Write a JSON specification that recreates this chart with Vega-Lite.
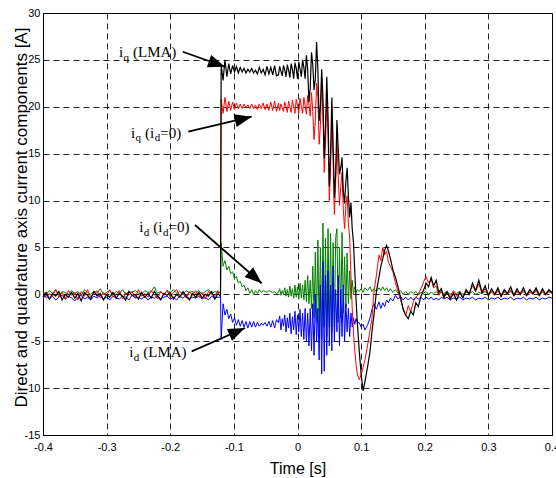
{
"$schema":"https://vega.github.io/schema/vega-lite/v6.json",
"width":509,"height":422,
"autosize":{"type":"none"},
"padding":{"left":43,"top":13,"right":4,"bottom":43},
"background":"white",
"config":{"font":"Liberation Sans","view":{"stroke":"black","strokeWidth":1}},
"datasets":{
"sig":[
{"t":-0.4,"k":-0.3,"r":0.3,"g":0.3,"b":-0.4},{"t":-0.395,"k":0.2,"r":-0.4,"g":0.0,"b":-0.1},{"t":-0.39,"k":-0.5,"r":0.1,"g":0.4,"b":-0.5},{"t":-0.385,"k":0.1,"r":-0.2,"g":0.1,"b":-0.2},
{"t":-0.38,"k":-0.2,"r":0.5,"g":0.5,"b":-0.6},{"t":-0.375,"k":0.3,"r":-0.3,"g":-0.1,"b":-0.3},{"t":-0.37,"k":-0.6,"r":0.2,"g":0.3,"b":-0.1},{"t":-0.365,"k":0.0,"r":-0.5,"g":0.2,"b":-0.5},
{"t":-0.36,"k":-0.3,"r":0.4,"g":0.0,"b":-0.2},{"t":-0.355,"k":0.2,"r":-0.1,"g":0.4,"b":-0.4},{"t":-0.35,"k":-0.4,"r":0.2,"g":0.1,"b":-0.7},{"t":-0.345,"k":0.1,"r":-0.6,"g":0.3,"b":-0.3},
{"t":-0.34,"k":-0.7,"r":0.3,"g":-0.1,"b":-0.1},{"t":-0.335,"k":0.2,"r":-0.2,"g":0.5,"b":-0.5},{"t":-0.33,"k":-0.1,"r":0.5,"g":0.2,"b":-0.3},{"t":-0.325,"k":-0.5,"r":-0.3,"g":0.0,"b":-0.6},
{"t":-0.32,"k":0.3,"r":0.1,"g":0.3,"b":-0.2},{"t":-0.315,"k":-0.2,"r":0.4,"g":0.1,"b":-0.4},{"t":-0.31,"k":0.1,"r":-0.4,"g":0.6,"b":-0.1},{"t":-0.305,"k":-0.6,"r":0.2,"g":0.0,"b":-0.5},
{"t":-0.3,"k":0.0,"r":-0.1,"g":0.2,"b":-0.3},{"t":-0.295,"k":-0.3,"r":0.5,"g":0.4,"b":-0.6},{"t":-0.29,"k":0.2,"r":-0.3,"g":-0.1,"b":-0.2},{"t":-0.285,"k":-0.4,"r":0.0,"g":0.3,"b":-0.4},
{"t":-0.28,"k":0.1,"r":0.4,"g":0.1,"b":-0.5},{"t":-0.275,"k":-0.2,"r":-0.5,"g":0.5,"b":-0.2},{"t":-0.27,"k":-0.6,"r":0.2,"g":0.0,"b":-0.3},{"t":-0.265,"k":0.3,"r":-0.1,"g":0.3,"b":-0.6},
{"t":-0.26,"k":-0.1,"r":0.3,"g":0.2,"b":-0.1},{"t":-0.255,"k":0.0,"r":-0.4,"g":0.4,"b":-0.4},{"t":-0.25,"k":-0.5,"r":0.5,"g":0.1,"b":-0.3},{"t":-0.245,"k":0.2,"r":-0.2,"g":0.0,"b":-0.5},
{"t":-0.24,"k":-0.3,"r":0.1,"g":0.4,"b":-0.2},{"t":-0.235,"k":0.1,"r":-0.3,"g":0.2,"b":-0.6},{"t":-0.23,"k":-0.4,"r":0.4,"g":0.3,"b":-0.3},{"t":-0.225,"k":0.3,"r":0.0,"g":0.8,"b":-0.4},
{"t":-0.22,"k":-0.2,"r":-0.5,"g":0.1,"b":-0.1},{"t":-0.215,"k":-0.6,"r":0.3,"g":0.3,"b":-0.5},{"t":-0.21,"k":0.1,"r":-0.1,"g":0.0,"b":-0.3},{"t":-0.205,"k":-0.1,"r":0.4,"g":0.4,"b":-0.2},
{"t":-0.2,"k":0.2,"r":-0.3,"g":0.2,"b":-0.5},{"t":-0.195,"k":-0.5,"r":0.2,"g":0.5,"b":-0.3},{"t":-0.19,"k":0.0,"r":0.5,"g":0.1,"b":-0.6},{"t":-0.185,"k":-0.3,"r":-0.2,"g":0.3,"b":-0.2},
{"t":-0.18,"k":0.3,"r":0.1,"g":0.0,"b":-0.4},{"t":-0.175,"k":-0.2,"r":-0.4,"g":0.4,"b":-0.1},{"t":-0.17,"k":-0.6,"r":0.3,"g":0.2,"b":-0.5},{"t":-0.165,"k":0.1,"r":-0.1,"g":0.3,"b":-0.3},
{"t":-0.16,"k":-0.3,"r":0.4,"g":0.1,"b":-0.4},{"t":-0.155,"k":0.2,"r":-0.3,"g":0.4,"b":-0.2},{"t":-0.15,"k":-0.4,"r":0.2,"g":0.0,"b":-0.5},{"t":-0.145,"k":0.0,"r":-0.5,"g":0.3,"b":-0.3},
{"t":-0.14,"k":-0.2,"r":0.3,"g":0.5,"b":-0.6},{"t":-0.135,"k":0.3,"r":0.0,"g":0.1,"b":-0.2},{"t":-0.13,"k":-0.5,"r":-0.2,"g":0.3,"b":-0.4},{"t":-0.125,"k":0.1,"r":0.4,"g":0.2,"b":-0.3},
{"t":-0.121,"k":-0.2,"r":0.1,"g":0.2,"b":-0.3},
{"t":-0.12,"k":24.5,"r":20.8,"g":5.5,"b":-4.8},{"t":-0.117,"k":22.8,"r":19.3,"g":3.0,"b":-1.0},{"t":-0.114,"k":25.0,"r":21.0,"g":3.6,"b":-2.2},{"t":-0.111,"k":23.2,"r":19.5,"g":2.6,"b":-1.6},
{"t":-0.108,"k":24.6,"r":20.6,"g":3.0,"b":-2.6},{"t":-0.105,"k":23.5,"r":19.6,"g":2.2,"b":-2.1},{"t":-0.102,"k":24.4,"r":20.5,"g":2.4,"b":-3.0},{"t":-0.099,"k":23.7,"r":19.7,"g":1.7,"b":-2.5},
{"t":-0.096,"k":24.3,"r":20.4,"g":1.9,"b":-3.3},{"t":-0.093,"k":23.6,"r":19.8,"g":1.2,"b":-2.7},{"t":-0.09,"k":24.2,"r":20.3,"g":1.4,"b":-3.4},{"t":-0.087,"k":23.7,"r":19.8,"g":0.8,"b":-2.8},
{"t":-0.084,"k":24.1,"r":20.3,"g":1.0,"b":-3.5},{"t":-0.081,"k":23.6,"r":19.9,"g":0.4,"b":-2.9},{"t":-0.078,"k":24.0,"r":20.2,"g":0.7,"b":-3.6},{"t":-0.075,"k":23.7,"r":19.8,"g":0.1,"b":-2.9},
{"t":-0.072,"k":24.1,"r":20.3,"g":0.5,"b":-3.5},{"t":-0.069,"k":23.6,"r":19.8,"g":0.0,"b":-2.9},{"t":-0.066,"k":23.9,"r":20.2,"g":0.4,"b":-3.5},{"t":-0.063,"k":23.5,"r":19.7,"g":0.1,"b":-3.0},
{"t":-0.06,"k":24.2,"r":20.3,"g":0.5,"b":-3.4},{"t":-0.057,"k":23.6,"r":19.8,"g":0.2,"b":-3.1},{"t":-0.054,"k":24.0,"r":20.4,"g":0.4,"b":-3.3},{"t":-0.051,"k":23.4,"r":19.7,"g":0.3,"b":-3.0},
{"t":-0.048,"k":24.3,"r":20.3,"g":0.2,"b":-3.4},{"t":-0.045,"k":23.5,"r":19.6,"g":0.4,"b":-2.9},{"t":-0.042,"k":24.2,"r":20.5,"g":0.3,"b":-3.5},{"t":-0.039,"k":23.4,"r":19.6,"g":0.2,"b":-2.8},
{"t":-0.036,"k":24.4,"r":20.6,"g":0.3,"b":-3.6},{"t":-0.033,"k":23.3,"r":19.5,"g":0.1,"b":-2.7},
{"t":-0.03,"k":23.4,"r":20.4,"g":0.2,"b":-3.0},{"t":-0.028,"k":24.3,"r":19.6,"g":0.6,"b":-2.3},{"t":-0.026,"k":23.8,"r":20.3,"g":-0.1,"b":-3.8},{"t":-0.024,"k":23.3,"r":19.9,"g":0.4,"b":-2.6},
{"t":-0.022,"k":24.4,"r":19.5,"g":0.0,"b":-3.4},{"t":-0.02,"k":23.9,"r":20.5,"g":0.7,"b":-2.2},{"t":-0.018,"k":23.2,"r":20.0,"g":-0.2,"b":-4.0},{"t":-0.016,"k":24.5,"r":19.4,"g":0.5,"b":-2.5},
{"t":-0.014,"k":23.9,"r":20.6,"g":-0.3,"b":-3.6},{"t":-0.012,"k":23.1,"r":20.0,"g":0.9,"b":-2.0},{"t":-0.01,"k":24.6,"r":19.4,"g":-0.2,"b":-4.2},{"t":-0.008,"k":24.0,"r":20.7,"g":0.6,"b":-2.4},
{"t":-0.006,"k":23.0,"r":20.0,"g":-0.4,"b":-3.8},{"t":-0.004,"k":24.7,"r":19.3,"g":1.0,"b":-1.8},{"t":-0.002,"k":24.1,"r":20.8,"g":-0.3,"b":-4.3},{"t":0.0,"k":23.0,"r":20.1,"g":0.8,"b":-2.2},
{"t":0.002,"k":24.8,"r":19.3,"g":-0.5,"b":-4.0},{"t":0.004,"k":24.0,"r":20.9,"g":1.2,"b":-1.6},{"t":0.006,"k":23.2,"r":20.0,"g":-0.4,"b":-4.5},{"t":0.008,"k":25.0,"r":19.3,"g":1.0,"b":-2.0},
{"t":0.01,"k":24.2,"r":21.0,"g":-0.6,"b":-4.8},{"t":0.012,"k":23.0,"r":20.1,"g":1.5,"b":-1.5},{"t":0.014,"k":25.5,"r":19.2,"g":-0.8,"b":-5.0},{"t":0.016,"k":24.0,"r":21.2,"g":2.0,"b":-2.0},
{"t":0.018,"k":20.5,"r":20.3,"g":-1.0,"b":-5.5},{"t":0.02,"k":22.0,"r":19.0,"g":1.5,"b":-1.5},{"t":0.022,"k":25.8,"r":21.5,"g":-1.5,"b":-6.0},{"t":0.024,"k":24.5,"r":19.5,"g":3.0,"b":-1.0},
{"t":0.026,"k":21.8,"r":16.5,"g":-2.5,"b":-6.5},{"t":0.028,"k":23.0,"r":18.5,"g":4.5,"b":0.0},{"t":0.03,"k":26.9,"r":22.5,"g":-3.0,"b":-5.0},{"t":0.032,"k":24.0,"r":21.0,"g":5.8,"b":-1.5},
{"t":0.034,"k":18.5,"r":16.0,"g":-4.0,"b":-7.0},{"t":0.036,"k":20.0,"r":18.0,"g":5.0,"b":1.0},{"t":0.038,"k":24.0,"r":23.0,"g":-4.8,"b":-8.5},{"t":0.04,"k":21.0,"r":19.0,"g":7.6,"b":3.5},
{"t":0.042,"k":14.5,"r":13.0,"g":-3.5,"b":-8.2},{"t":0.044,"k":18.0,"r":16.0,"g":6.0,"b":2.0},{"t":0.046,"k":23.2,"r":21.0,"g":-4.5,"b":-6.5},{"t":0.048,"k":19.0,"r":17.0,"g":7.0,"b":2.5},
{"t":0.05,"k":11.5,"r":10.0,"g":-3.5,"b":-5.5},{"t":0.052,"k":15.0,"r":13.5,"g":6.5,"b":1.0},{"t":0.054,"k":21.0,"r":19.0,"g":-4.0,"b":-6.0},{"t":0.056,"k":16.0,"r":14.0,"g":5.5,"b":3.0},
{"t":0.058,"k":10.3,"r":8.5,"g":-3.5,"b":-5.0},{"t":0.06,"k":13.0,"r":12.0,"g":6.0,"b":0.5},{"t":0.062,"k":18.6,"r":16.5,"g":7.0,"b":-4.0},{"t":0.064,"k":15.5,"r":12.5,"g":-3.0,"b":2.0},
{"t":0.066,"k":12.8,"r":9.5,"g":5.0,"b":-5.5},{"t":0.068,"k":13.5,"r":11.5,"g":-2.5,"b":0.5},{"t":0.07,"k":14.6,"r":13.0,"g":6.6,"b":-4.5},{"t":0.072,"k":11.0,"r":9.0,"g":-2.0,"b":1.0},
{"t":0.074,"k":9.7,"r":7.0,"g":4.0,"b":-5.0},{"t":0.076,"k":12.0,"r":9.5,"g":-1.5,"b":-1.0},{"t":0.078,"k":13.5,"r":10.5,"g":4.4,"b":-4.0},{"t":0.08,"k":10.5,"r":7.5,"g":-1.0,"b":-1.5},
{"t":0.082,"k":8.2,"r":6.0,"g":2.5,"b":-4.5},{"t":0.084,"k":9.8,"r":2.0,"g":-0.5,"b":-2.0},{"t":0.086,"k":7.0,"r":-1.5,"g":1.5,"b":-3.5},{"t":0.088,"k":5.5,"r":-4.0,"g":0.0,"b":-2.5},
{"t":0.09,"k":2.5,"r":-6.0,"g":0.8,"b":-3.2},{"t":0.092,"k":-0.5,"r":-7.5,"g":0.2,"b":-2.6},{"t":0.094,"k":-3.0,"r":-8.5,"g":0.5,"b":-3.0},
{"t":0.097,"k":-6.0,"r":-9.1,"g":0.3,"b":-3.0},{"t":0.1,"k":-8.5,"r":-8.6,"g":0.6,"b":-3.5},{"t":0.103,"k":-10.3,"r":-7.8,"g":0.2,"b":-3.2},{"t":0.106,"k":-9.3,"r":-7.0,"g":0.7,"b":-3.8},
{"t":0.11,"k":-7.8,"r":-5.5,"g":0.4,"b":-3.3},{"t":0.114,"k":-6.1,"r":-3.8,"g":0.8,"b":-2.5},{"t":0.117,"k":-4.0,"r":-2.6,"g":0.3,"b":-1.6},{"t":0.12,"k":-2.3,"r":0.2,"g":0.6,"b":-1.0},
{"t":0.124,"k":0.3,"r":2.0,"g":0.3,"b":-1.6},{"t":0.128,"k":1.8,"r":4.2,"g":0.7,"b":-0.8},{"t":0.131,"k":3.0,"r":3.6,"g":0.4,"b":-1.5},{"t":0.134,"k":3.8,"r":5.0,"g":0.8,"b":-0.9},
{"t":0.137,"k":4.7,"r":4.2,"g":0.4,"b":-1.3},{"t":0.14,"k":5.2,"r":4.6,"g":0.7,"b":-0.6},{"t":0.143,"k":4.6,"r":3.4,"g":0.3,"b":-0.9},{"t":0.146,"k":3.8,"r":3.0,"g":0.6,"b":-0.4},
{"t":0.15,"k":2.6,"r":2.4,"g":0.2,"b":-0.7},{"t":0.154,"k":1.8,"r":1.2,"g":0.5,"b":-0.1},{"t":0.158,"k":0.8,"r":0.3,"g":0.1,"b":-0.5},{"t":0.162,"k":-0.3,"r":-0.6,"g":0.4,"b":-0.2},
{"t":0.166,"k":-1.6,"r":-1.5,"g":0.0,"b":-0.6},{"t":0.17,"k":-2.2,"r":-2.3,"g":0.3,"b":-0.3},{"t":0.174,"k":-2.6,"r":-1.2,"g":0.0,"b":-0.6},{"t":0.178,"k":-1.8,"r":-1.9,"g":0.3,"b":-0.3},
{"t":0.182,"k":-2.2,"r":-0.8,"g":0.1,"b":-0.6},{"t":0.186,"k":-0.9,"r":-0.3,"g":0.3,"b":-0.3},{"t":0.19,"k":-1.3,"r":0.0,"g":0.0,"b":-0.5},{"t":0.194,"k":-0.2,"r":0.6,"g":0.2,"b":-0.3},
{"t":0.198,"k":0.4,"r":1.3,"g":0.1,"b":-0.6},{"t":0.202,"k":1.2,"r":1.9,"g":0.3,"b":-0.3},{"t":0.206,"k":0.8,"r":1.2,"g":0.0,"b":-0.5},{"t":0.21,"k":1.8,"r":1.6,"g":0.2,"b":-0.3},
{"t":0.214,"k":0.9,"r":0.7,"g":0.1,"b":-0.6},{"t":0.218,"k":1.5,"r":0.9,"g":0.3,"b":-0.4},{"t":0.222,"k":0.2,"r":-0.1,"g":0.0,"b":-0.6},{"t":0.226,"k":0.6,"r":0.4,"g":0.2,"b":-0.3},
{"t":0.23,"k":-0.3,"r":-0.4,"g":0.1,"b":-0.5},{"t":0.235,"k":0.3,"r":0.2,"g":0.3,"b":-0.3},{"t":0.24,"k":-0.5,"r":-0.3,"g":0.0,"b":-0.6},{"t":0.245,"k":0.1,"r":0.4,"g":0.2,"b":-0.4},
{"t":0.25,"k":-0.6,"r":-0.2,"g":0.1,"b":-0.5},{"t":0.255,"k":0.2,"r":0.3,"g":0.3,"b":-0.3},{"t":0.26,"k":-0.4,"r":-0.3,"g":0.0,"b":-0.6},{"t":0.265,"k":0.5,"r":0.3,"g":0.2,"b":-0.4},
{"t":0.27,"k":0.0,"r":0.2,"g":0.1,"b":-0.5},{"t":0.275,"k":1.2,"r":0.9,"g":0.3,"b":-0.3},{"t":0.28,"k":0.4,"r":0.3,"g":0.0,"b":-0.6},{"t":0.285,"k":1.5,"r":1.1,"g":0.2,"b":-0.4},
{"t":0.29,"k":0.2,"r":0.1,"g":0.1,"b":-0.5},{"t":0.295,"k":0.9,"r":0.6,"g":0.3,"b":-0.3},{"t":0.3,"k":-0.1,"r":-0.2,"g":0.0,"b":-0.6},{"t":0.305,"k":0.6,"r":0.4,"g":0.2,"b":-0.4},
{"t":0.31,"k":0.0,"r":-0.1,"g":0.1,"b":-0.5},{"t":0.315,"k":0.7,"r":0.5,"g":0.3,"b":-0.3},{"t":0.32,"k":-0.2,"r":-0.3,"g":0.0,"b":-0.6},{"t":0.325,"k":0.5,"r":0.3,"g":0.2,"b":-0.4},
{"t":0.33,"k":0.1,"r":0.0,"g":0.1,"b":-0.5},{"t":0.335,"k":0.8,"r":0.5,"g":0.3,"b":-0.3},{"t":0.34,"k":-0.1,"r":-0.2,"g":0.0,"b":-0.6},{"t":0.345,"k":0.6,"r":0.4,"g":0.2,"b":-0.4},
{"t":0.35,"k":0.0,"r":-0.1,"g":0.1,"b":-0.5},{"t":0.355,"k":0.7,"r":0.5,"g":0.3,"b":-0.3},{"t":0.36,"k":-0.1,"r":-0.2,"g":0.0,"b":-0.6},{"t":0.365,"k":0.5,"r":0.3,"g":0.2,"b":-0.4},
{"t":0.37,"k":0.1,"r":0.0,"g":0.1,"b":-0.5},{"t":0.375,"k":0.7,"r":0.5,"g":0.3,"b":-0.3},{"t":0.38,"k":-0.1,"r":-0.2,"g":0.0,"b":-0.6},{"t":0.385,"k":0.6,"r":0.4,"g":0.2,"b":-0.4},
{"t":0.39,"k":0.0,"r":-0.1,"g":0.1,"b":-0.5},{"t":0.395,"k":0.5,"r":0.3,"g":0.3,"b":-0.3},{"t":0.4,"k":0.2,"r":0.1,"g":0.1,"b":-0.4}
],
"ann":[
{"t":-0.2805,"v":25.36,"text":"i"},{"t":-0.2585,"v":25.36,"text":"(LMA)"},
{"t":-0.2617,"v":16.72,"text":"i"},{"t":-0.2397,"v":16.72,"text":"(i"},{"t":-0.2158,"v":16.72,"text":"=0)"},
{"t":-0.2486,"v":6.70,"text":"i"},{"t":-0.2266,"v":6.70,"text":"(i"},{"t":-0.2028,"v":6.70,"text":"=0)"},
{"t":-0.2644,"v":-6.68,"text":"i"},{"t":-0.2424,"v":-6.68,"text":"(LMA)"}
],
"sub":[
{"t":-0.2736,"v":24.93,"text":"q"},
{"t":-0.2548,"v":16.30,"text":"q"},{"t":-0.2244,"v":16.30,"text":"d"},
{"t":-0.2417,"v":6.27,"text":"d"},{"t":-0.2114,"v":6.27,"text":"d"},
{"t":-0.2574,"v":-7.11,"text":"d"}
],
"arr":[
{"id":1,"t":-0.1804,"v":25.87,"t2":-0.1139,"v2":24.27},
{"id":2,"t":-0.1716,"v":17.34,"t2":-0.0720,"v2":18.94},
{"id":3,"t":-0.1611,"v":7.39,"t2":-0.0563,"v2":1.18},
{"id":4,"t":-0.1663,"v":-6.08,"t2":-0.0825,"v2":-3.59}
]
},
"data":{"name":"sig"},
"encoding":{
"x":{"field":"t","type":"quantitative","title":"Time [s]",
 "scale":{"domain":[-0.4,0.4],"nice":false,"zero":false},
 "axis":{"values":[-0.4,-0.3,-0.2,-0.1,0,0.1,0.2,0.3,0.4],"labelExpr":"datum.value==0?'0':toString(round(datum.value*10)/10)",
  "grid":true,"gridDash":[6,4],"gridColor":"#000","gridOpacity":0.85,"gridWidth":1,"ticks":false,"domainColor":"black","domainWidth":1,
  "labelFont":"Liberation Sans","labelFontSize":11,"labelColor":"black","labelPadding":6,"labelFlush":false,"labelOverlap":false,
  "titleFont":"Liberation Sans","titleFontSize":16,"titleFontWeight":"normal","titleColor":"black","titlePadding":8}},
"y":{"field":"v","type":"quantitative","title":"Direct and quadrature axis current components [A]",
 "scale":{"domain":[-15,30],"nice":false,"zero":false},
 "axis":{"values":[-15,-10,-5,0,5,10,15,20,25,30],"labelExpr":"toString(datum.value)",
  "grid":true,"gridDash":[6,4],"gridColor":"#000","gridOpacity":0.85,"gridWidth":1,"ticks":false,"domainColor":"black","domainWidth":1,
  "labelFont":"Liberation Sans","labelFontSize":11,"labelColor":"black","labelPadding":3,"labelOverlap":false,
  "titleFont":"Liberation Sans","titleFontSize":17,"titleFontWeight":"normal","titleColor":"black",
  "titleX":-17,"titleY":204,"titleBaseline":"alphabetic","titleAlign":"center","titleAngle":-90}}
},
"layer":[
{"transform":[{"fold":["g"],"as":["s","v"]}],"mark":{"type":"line","color":"#008000","strokeWidth":1}},
{"transform":[{"fold":["b"],"as":["s","v"]}],"mark":{"type":"line","color":"#0000ff","strokeWidth":1}},
{"transform":[{"fold":["r"],"as":["s","v"]}],"mark":{"type":"line","color":"#ff0000","strokeWidth":1}},
{"transform":[{"fold":["k"],"as":["s","v"]}],"mark":{"type":"line","color":"#000000","strokeWidth":1.2}},
{"data":{"name":"arr"},"mark":{"type":"rule","color":"black","strokeWidth":1.8},
 "encoding":{"x2":{"field":"t2"},"y2":{"field":"v2"}}},
{"data":{"name":"arr"},"transform":[{"filter":"datum.id==1"}],
 "mark":{"type":"point","filled":true,"color":"black","opacity":1,"shape":"M0,0L-1,-0.38L-1,0.38Z","size":1156,"angle":19.5},
 "encoding":{"x":{"field":"t2","type":"quantitative"},"y":{"field":"v2","type":"quantitative"}}},
{"data":{"name":"arr"},"transform":[{"filter":"datum.id==2"}],
 "mark":{"type":"point","filled":true,"color":"black","opacity":1,"shape":"M0,0L-1,-0.38L-1,0.38Z","size":1156,"angle":-13.3},
 "encoding":{"x":{"field":"t2","type":"quantitative"},"y":{"field":"v2","type":"quantitative"}}},
{"data":{"name":"arr"},"transform":[{"filter":"datum.id==3"}],
 "mark":{"type":"point","filled":true,"color":"black","opacity":1,"shape":"M0,0L-1,-0.38L-1,0.38Z","size":1156,"angle":41.2},
 "encoding":{"x":{"field":"t2","type":"quantitative"},"y":{"field":"v2","type":"quantitative"}}},
{"data":{"name":"arr"},"transform":[{"filter":"datum.id==4"}],
 "mark":{"type":"point","filled":true,"color":"black","opacity":1,"shape":"M0,0L-1,-0.38L-1,0.38Z","size":1156,"angle":-23.6},
 "encoding":{"x":{"field":"t2","type":"quantitative"},"y":{"field":"v2","type":"quantitative"}}},
{"data":{"name":"ann"},"mark":{"type":"text","font":"Liberation Serif","fontSize":15,"align":"left","baseline":"alphabetic","color":"black"},
 "encoding":{"text":{"field":"text"}}},
{"data":{"name":"sub"},"mark":{"type":"text","font":"Liberation Serif","fontSize":11,"align":"left","baseline":"alphabetic","color":"black"},
 "encoding":{"text":{"field":"text"}}}
]
}
